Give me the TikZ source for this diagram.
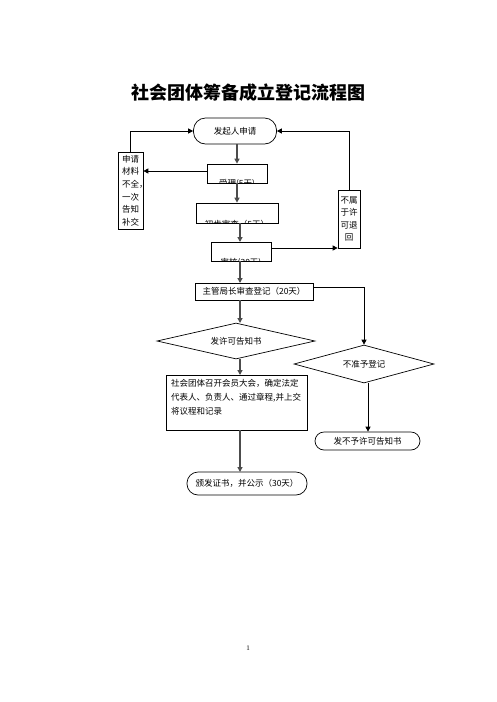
\documentclass[tikz,border=0pt]{standalone}
\usepackage{fontspec}
\setmainfont{Liberation Serif}
\newfontfamily\cjk{Noto Sans CJK SC}
\usetikzlibrary{shapes.geometric,arrows.meta}
\begin{document}
\begin{tikzpicture}[x=1pt,y=-1pt,
  font=\cjk\fontsize{8.5}{12.8}\selectfont,
  boxn/.style={draw,line width=0.7pt,inner sep=0pt},
  stad/.style={draw,line width=0.7pt,rounded corners=9pt,inner sep=0pt},
  dia/.style={draw,line width=0.7pt,diamond,aspect=4.2,inner sep=0pt},
  garr/.style={draw=black!70,line width=1.6pt,-{Triangle[length=5pt,width=5pt]}},
  barr/.style={draw=black,line width=0.8pt,-{Triangle[length=5pt,width=5pt]}},
  bline/.style={draw=black,line width=0.8pt}]
\useasboundingbox[fill=white] (0,0) rectangle (496,702);

\node[font=\cjk\bfseries\fontsize{18}{20}\selectfont] (title) at (248,93) {社会团体筹备成立登记流程图};

\node[draw,line width=0.7pt,rounded corners=12pt,minimum width=83pt,minimum height=26pt,inner sep=0pt] (start) at (235,131) {发起人申请};

\node[boxn,minimum width=25pt,minimum height=77pt] (left) at (130.5,190.5) {};
\node[anchor=west,align=left,inner sep=0pt,font=\cjk\fontsize{8.5}{12.6}\selectfont] (lefttxt) at (122,190.5) {申请\\材料\\不全\rlap{，}\\一次\\告知\\补交};

\node[boxn,minimum width=60pt,minimum height=19pt] (b1) at (237,173.5) {};
\node[boxn,minimum width=82pt,minimum height=20pt] (b2) at (237,213) {};
\node[boxn,minimum width=60pt,minimum height=19pt] (b3) at (241,251.5) {};
\begin{scope}
\clip (207,164) rectangle (267,183);
\node at (237,183.8) {受理(5天)};
\end{scope}
\begin{scope}
\clip (196,203) rectangle (278,223);
\node at (237,223.8) {初步审查（5天）};
\end{scope}
\begin{scope}
\clip (211,242) rectangle (271,261);
\node at (241,262.3) {审核(30天)};
\end{scope}

\node[boxn,minimum width=22pt,minimum height=58pt,align=center,font=\cjk\fontsize{8.5}{12.6}\selectfont] (right) at (349,219) {不属\\于许\\可退\\回};

\node[boxn,minimum width=118pt,minimum height=17pt] (chief) at (254,291.5) {主管局长审查登记（20天）};

\node[dia,minimum width=158pt,minimum height=36pt] (d1) at (236,341) {发许可告知书};
\node[dia,minimum width=140pt,minimum height=38pt] (d2) at (364,364) {不准予登记};

\node[boxn,minimum width=141pt,minimum height=55pt] (big) at (236.5,402.5) {};
\node[anchor=north west,align=left,font=\cjk\fontsize{8.5}{14}\selectfont,inner sep=0pt] (bigtxt) at (171,379) {社会团体召开会员大会，确定法定\\代表人、负责人、通过章程,并上交\\将议程和记录};

\node[stad,minimum width=105pt,minimum height=18pt] (deny) at (367.5,441) {发不予许可告知书};
\node[stad,minimum width=120pt,minimum height=23pt,rounded corners=11pt] (cert) at (247,483.5) {颁发证书，并公示（30天）};

\node[font=\fontsize{7}{8}\selectfont] (pg) at (248,648) {1};

% connectors
\draw[garr] (start.south -| b1.north) -- (b1.north);
\draw[garr] (b1.south) -- (b2.north);
\draw[garr] (b2.south -| 240,0) -- (240,242);
\draw[garr] (240,261) -- (240,283);
\draw[garr] (240,300) -- (240,323);
\draw[garr] (240,359) -- (240,375);
\draw[garr] (240,430) -- (240,472);

\draw[barr] (b1.west |- 0,171) -- (left.east |- 0,171);
\draw[barr] (left.north) |- (start.west);
\draw[bline] (b3.east |- 0,248) -- (300,248);
\draw[barr] (300,248) -- (right.west |- 0,248);
\draw[barr] (right.north) |- (start.east);
\draw[barr] (chief.east |- 0,287) -| (d2.north);
\draw[barr] (d2.south -| 368,0) -- (deny.north -| 368,0);
\end{tikzpicture}
\end{document}
